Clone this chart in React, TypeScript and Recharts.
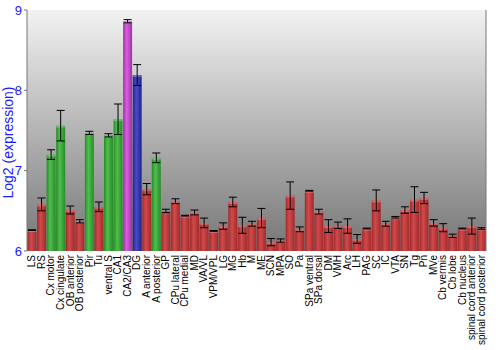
import React from 'react';
import {
  BarChart, Bar, XAxis, YAxis, CartesianGrid, ErrorBar, Cell, ReferenceLine,
} from 'recharts';

const regions = [
  'LS', 'RS', 'Cx motor', 'Cx cingulate', 'OB anterior', 'OB posterior', 'Pir', 'Tu',
  'ventral S', 'CA1', 'CA2/CA3', 'DG', 'A anterior', 'A posterior', 'GP', 'CPu lateral',
  'CPu medial', 'MD', 'VA/VL', 'VPM/VPL', 'LG', 'MG', 'Hb', 'M', 'ME', 'SCN', 'MPA', 'SO',
  'Pa', 'SPa ventral', 'SPa dorsal', 'DM', 'VMH', 'Arc', 'LH', 'PAG', 'SC', 'IC', 'VTA',
  'SN', 'Tg', 'Pn', 'MVe', 'Cb vermis', 'Cb lobe', 'Cb nucleus', 'spinal cord anterior',
  'spinal cord posterior',
];

const expression = [
  6.26, 6.58, 7.20, 7.56, 6.51, 6.37, 7.47, 6.55,
  7.44, 7.64, 8.86, 8.19, 6.77, 7.16, 6.50, 6.62,
  6.44, 6.48, 6.35, 6.25, 6.31, 6.61, 6.32, 6.34, 6.41, 6.11, 6.13, 6.69,
  6.27, 6.75, 6.49, 6.31, 6.32, 6.31, 6.15, 6.28, 6.63, 6.34, 6.42,
  6.51, 6.64, 6.66, 6.35, 6.29, 6.19, 6.28, 6.31,
  6.28,
];

const stdErr = [
  0.005, 0.08, 0.06, 0.19, 0.05, 0.02, 0.02, 0.06,
  0.02, 0.19, 0.02, 0.13, 0.07, 0.06, 0.02, 0.03,
  0.005, 0.03, 0.06, 0.005, 0.04, 0.06, 0.10, 0.03, 0.12, 0.045, 0.02, 0.17,
  0.03, 0.005, 0.03, 0.08, 0.04, 0.09, 0.055, 0.005, 0.13, 0.03, 0.01,
  0.04, 0.16, 0.07, 0.04, 0.05, 0.02, 0.005, 0.10,
  0.01,
];

// r = red, g = green, m = magenta, b = blue
const regionGroup = [
  'r', 'r', 'g', 'g', 'r', 'r', 'g', 'r',
  'g', 'g', 'm', 'b', 'r', 'g', 'r', 'r',
  'r', 'r', 'r', 'r', 'r', 'r', 'r', 'r', 'r', 'r', 'r', 'r',
  'r', 'r', 'r', 'r', 'r', 'r', 'r', 'r', 'r', 'r', 'r',
  'r', 'r', 'r', 'r', 'r', 'r', 'r', 'r',
  'r',
];

const yTicks = [6, 7, 8, 9];
const yLabel = 'Log2 (expression)';

const data = regions.map((name, i) => ({
  name,
  value: expression[i],
  err: stdErr[i],
  group: regionGroup[i],
}));

const palette: Record<string, [string, string, string]> = {
  r: ['#a02a2c', '#d24a4a', '#a22a2c'],
  g: ['#2a8a2a', '#4cc04c', '#2a8a2a'],
  m: ['#a030a8', '#d860dc', '#a030a8'],
  b: ['#22228a', '#4a4ac8', '#22228a'],
};

const FONT = 'Liberation Sans, Arial, sans-serif';

const XTick = (props: any) => {
  const { x, y, payload } = props;
  return (
    <text
      x={x}
      y={y}
      transform={`rotate(-90, ${x}, ${y})`}
      textAnchor="end"
      dy="0.35em"
      fontSize={10}
      fontFamily={FONT}
      fill="#000"
    >
      {payload.value}
    </text>
  );
};

const YLabel = (props: any) => {
  const vb = props.viewBox || {};
  const cx = vb.x + 13;
  const cy = vb.y + vb.height / 2 + 12;
  return (
    <text
      x={cx}
      y={cy}
      transform={`rotate(-90, ${cx}, ${cy})`}
      textAnchor="middle"
      fontSize={14}
      fontFamily={FONT}
      fill="#1a1aff"
    >
      {yLabel}
    </text>
  );
};

const BarShape = (props: any) => {
  const { x, y, width, height, fill } = props;
  if (height <= 0) return null;
  return (
    <g>
      <rect x={x} y={y} width={width} height={height} fill={fill} />
      <rect x={x} y={y} width={width} height={Math.min(2, height)} fill="#ffffff" fillOpacity={0.25} />
    </g>
  );
};

export default function App() {
  return (
    <div style={{ position: 'absolute', left: 0, top: 0, width: 500, height: 350 }}>
      <BarChart
        width={500}
        height={350}
        data={data}
        margin={{ top: 10, right: 0, left: 0, bottom: 0 }}
        barCategoryGap="5%"
      >
        <defs>
          <linearGradient id="bgGrad" x1="0" y1="0" x2="0" y2="1">
            <stop offset="0%" stopColor="#f2f2f2" />
            <stop offset="100%" stopColor="#767676" />
          </linearGradient>
          {Object.keys(palette).map((k) => (
            <linearGradient key={k} id={`bar-${k}`} x1="0" y1="0" x2="1" y2="0">
              <stop offset="0%" stopColor={palette[k][0]} />
              <stop offset="40%" stopColor={palette[k][1]} />
              <stop offset="100%" stopColor={palette[k][2]} />
            </linearGradient>
          ))}
        </defs>
        <CartesianGrid horizontal={false} vertical={false} fill="url(#bgGrad)" fillOpacity={1} />
        <ReferenceLine y={7} stroke="#ffffff" strokeWidth={2} />
        <ReferenceLine y={8} stroke="#e6e6e6" strokeWidth={2} />
        <ReferenceLine y={9} stroke="#777777" strokeWidth={1} />
        <XAxis
          dataKey="name"
          interval={0}
          height={99}
          axisLine={false}
          tickLine={false}
          tickSize={2}
          tick={<XTick />}
        />
        <YAxis
          yAxisId="left"
          domain={[6, 9]}
          ticks={yTicks}
          width={27}
          axisLine={{ stroke: '#777777' }}
          tickLine={{ stroke: '#777777' }}
          tickSize={3}
          tick={{ fill: '#1a1aff', fontSize: 13, fontFamily: FONT }}
          allowDataOverflow
          label={<YLabel />}
        />
        <YAxis
          yAxisId="right"
          orientation="right"
          domain={[6, 9]}
          ticks={yTicks}
          width={14}
          axisLine={{ stroke: '#777777' }}
          tickLine={{ stroke: '#777777' }}
          tickSize={4}
          tickMargin={1}
          tick={{ fill: '#1a1aff', fontSize: 13, fontFamily: FONT }}
        />
        <Bar
          dataKey="value"
          yAxisId="left"
          isAnimationActive={false}
          shape={<BarShape />}
        >
          {data.map((d, i) => (
            <Cell key={i} fill={`url(#bar-${d.group})`} />
          ))}
          <ErrorBar dataKey="err" width={4} stroke="#000" strokeWidth={1} />
        </Bar>
      </BarChart>
    </div>
  );
}
